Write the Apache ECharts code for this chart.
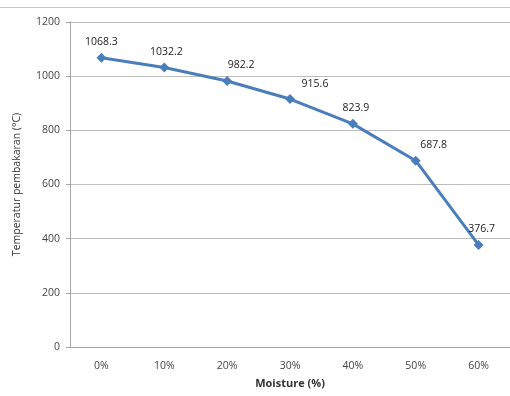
<!DOCTYPE html>
<html>
<head>
<meta charset="utf-8">
<script src="https://cdn.jsdelivr.net/npm/echarts@6/dist/echarts.min.js"></script>
<style>
html,body{margin:0;padding:0;background:#fff;}
#c{width:510px;height:396px;}
</style>
</head>
<body>
<div id="c"></div>
<script>
const categories = ['0%', '10%', '20%', '30%', '40%', '50%', '60%'];
const temperatures = [1068.3, 1032.2, 982.2, 915.6, 823.9, 687.8, 376.7];
const yTicks = { min: 0, max: 1200, interval: 200 };
const xTitle = 'Moisture (%)';
const yTitle = 'Temperatur pembakaran (°C)';
// horizontal nudge of each data label (style only)
const labelShift = [0, 2, 14, 25, 3, 18, 3];

const chart = echarts.init(document.getElementById('c'), null, { renderer: 'canvas' });
const font = 'Open Sans, Liberation Sans, sans-serif';
chart.setOption({
  animation: false,
  backgroundColor: '#fff',
  graphic: [
    { type: 'line', shape: { x1: 0, y1: 7.5, x2: 510, y2: 7.5 }, style: { stroke: '#c8c8c8', lineWidth: 1 } }
  ],
  grid: { left: 70, right: -3, top: 22, bottom: 49, containLabel: false },
  xAxis: {
    type: 'category',
    data: categories,
    boundaryGap: true,
    name: xTitle,
    nameLocation: 'middle',
    nameGap: 31,
    nameTextStyle: { fontFamily: font, fontSize: 11, fontWeight: 'bold', color: '#333' },
    axisLine: { lineStyle: { color: '#a6a6a6', width: 1 } },
    axisTick: { show: false },
    axisLabel: { fontFamily: font, fontSize: 10.5, color: '#444', margin: 14 }
  },
  yAxis: {
    type: 'value',
    min: yTicks.min, max: yTicks.max, interval: yTicks.interval,
    name: yTitle,
    nameLocation: 'middle',
    nameGap: 47,
    nameTextStyle: { fontFamily: font, fontSize: 10.5, color: '#333' },
    axisLine: { show: true, lineStyle: { color: '#a6a6a6', width: 1 } },
    axisTick: { show: true, length: 4, lineStyle: { color: '#a6a6a6' } },
    axisLabel: { fontFamily: font, fontSize: 10.5, color: '#444', margin: 10, formatter: v => String(v) },
    splitLine: { lineStyle: { color: '#bdbdbd', width: 1 } }
  },
  series: [{
    type: 'line',
    data: temperatures.map((v, i) => ({ value: v, label: { offset: [labelShift[i], 0] } })),
    symbol: 'diamond',
    symbolSize: 10,
    lineStyle: { color: '#4A7EBB', width: 3 },
    itemStyle: { color: '#4A7EBB' },
    label: {
      show: true, position: 'top', distance: 5,
      fontFamily: font, fontSize: 10.5, color: '#222',
      formatter: p => p.value.toFixed(1)
    }
  }]
});
</script>
</body>
</html>
